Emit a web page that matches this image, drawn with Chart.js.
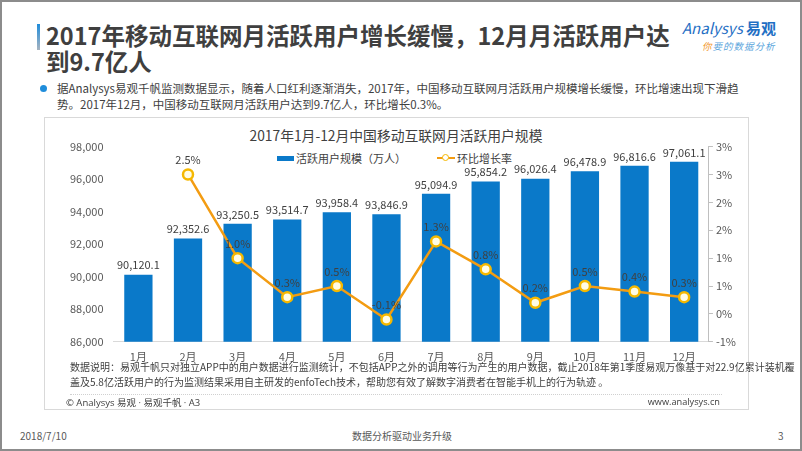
<!DOCTYPE html>
<html>
<head>
<meta charset="utf-8">
<script src="https://cdn.jsdelivr.net/npm/chart.js@4.4.1/dist/chart.umd.min.js"></script>
<style>
  body { margin: 0; background: #fff; font-family: "Noto Sans CJK SC", "Open Sans", sans-serif; color: #404040; }
  #slide { position: relative; width: 802px; height: 451px; box-sizing: border-box; border: 2px solid #8c8c8c; overflow: hidden; }
  .abs { position: absolute; white-space: nowrap; }
  #bar { left: 35px; top: 22px; width: 3px; height: 26px; background: linear-gradient(#1f8ddb, #a8b4c0); }
  #title { left: 44px; top: 20px; font-size: 23.5px; font-weight: bold; line-height: 26px; color: #3f3f3f; }
  #dot { left: 38px; top: 83px; width: 7px; height: 7px; border-radius: 50%; background: #1f8ddb; }
  #desc { left: 55px; top: 78px; font-size: 11.5px; line-height: 16px; }
  #box { left: 42px; top: 115px; width: 703px; height: 291px; border: 1px solid #d9d9d9; }
  #ctitle { left: 394px; top: 123px; transform: translateX(-50%); font-size: 13.8px; color: #404040; }
  #leg1 { left: 275px; top: 146px; font-size: 11px; }
  #leg2 { left: 435px; top: 146px; font-size: 11px; }
  .sw { display: inline-block; vertical-align: middle; }
  #note { left: 68px; top: 357px; font-size: 10px; line-height: 15px; color: #404040; }
  #sep { left: 68px; top: 392px; width: 652px; border-top: 1px dotted #d0d0d0; }
  #copy { left: 64px; top: 393px; font-size: 9.5px; color: #404040; }
  #site { right: 80px; top: 393px; font-size: 9.2px; color: #404040; font-family: "Open Sans", sans-serif; }
  .foot { top: 426px; font-size: 10px; color: #595959; }
  #logo1 { left: 680px; top: 15px; font-size: 15px; color: #1f6fc4; }
  #logo2 { left: 700px; top: 37px; font-size: 9.5px; font-style: italic; color: #5aa5dc; letter-spacing: 1px; }
  #chart { position: absolute; left: 43px; top: 128px; }
</style>
</head>
<body>
<div id="slide">
  <div class="abs" id="bar"></div>
  <div class="abs" id="title">2017年移动互联网月活跃用户增长缓慢，12月月活跃用户达<br>到9.7亿人</div>
  <div class="abs" id="logo1"><i>Analysys</i> <b>易观</b></div>
  <div class="abs" id="logo2"><span style="color:#f29a2e">你</span>要的数据分析</div>
  <div class="abs" id="dot"></div>
  <div class="abs" id="desc">据Analysys易观千帆监测数据显示，随着人口红利逐渐消失，2017年，中国移动互联网月活跃用户规模增长缓慢，环比增速出现下滑趋<br>势。2017年12月，中国移动互联网月活跃用户达到9.7亿人，环比增长0.3%。</div>
  <div class="abs" id="box"></div>
  <div class="abs" id="ctitle">2017年1月-12月中国移动互联网月活跃用户规模</div>
  <div class="abs" id="leg1"><span class="sw" style="width:17px;height:5px;background:#0a79c9;margin-right:2px"></span><span class="sw">活跃用户规模（万人）</span></div>
  <div class="abs" id="leg2"><span class="sw" style="width:18px;height:11px;position:relative;margin-right:2px"><span style="position:absolute;left:0;top:4px;width:18px;height:2px;background:#f39c12"></span><span style="position:absolute;left:5px;top:1px;width:5px;height:5px;border:1.5px solid #f5b800;border-radius:50%;background:#fff"></span></span><span class="sw">环比增长率</span></div>
  <canvas id="chart" width="702" height="245"></canvas>
  <div class="abs" id="note">数据说明：易观千帆只对独立APP中的用户数据进行监测统计，不包括APP之外的调用等行为产生的用户数据，截止2018年第1季度易观万像基于对22.9亿累计装机覆<br>盖及5.8亿活跃用户的行为监测结果采用自主研发的enfoTech技术，帮助您有效了解数字消费者在智能手机上的行为轨迹 。</div>
  <div class="abs" id="sep"></div>
  <div class="abs" id="copy"><span style="font-family:'Open Sans',sans-serif">© Analysys </span>易观<span style="font-family:'Open Sans',sans-serif"> · </span>易观千帆<span style="font-family:'Open Sans',sans-serif"> · A3</span></div>
  <div class="abs" id="site">www.analysys.cn</div>
  <div class="abs foot" style="left:18px">2018/7/10</div>
  <div class="abs foot" style="left:400px;transform:translateX(-50%)">数据分析驱动业务升级</div>
  <div class="abs foot" style="left:776px">3</div>
</div>
<script>
// 月份
var months = ["1月", "2月", "3月", "4月", "5月", "6月", "7月", "8月", "9月", "10月", "11月", "12月"];
// 活跃用户规模（万人）
var users = [90120.1, 92352.6, 93250.5, 93514.7, 93958.4, 93846.9, 95094.9, 95854.2, 96026.4, 96478.9, 96816.6, 97061.1];
// 环比增长率（%），1月无数据
var growth = [null, 2.5, 1.0, 0.3, 0.5, -0.1, 1.3, 0.8, 0.2, 0.5, 0.4, 0.3];

var FONT = "'Noto Sans CJK SC', 'Open Sans', sans-serif";

// 在柱子和点上方写数值
var valueLabels = {
  id: "valueLabels",
  afterDatasetsDraw: function(chart) {
    var ctx = chart.ctx;
    ctx.save();
    ctx.font = "11px " + FONT;
    ctx.fillStyle = "#404040";
    ctx.textAlign = "center";
    ctx.textBaseline = "bottom";
    chart.data.datasets.forEach(function(ds, i) {
      var meta = chart.getDatasetMeta(i);
      meta.data.forEach(function(el, j) {
        var v = ds.data[j];
        if (v === null) return;
        if (ds.type === "bar") {
          ctx.fillText(v.toLocaleString("en-US", {minimumFractionDigits: 1}), el.x, el.y - 4);
        } else {
          ctx.fillText(v.toFixed(1) + "%", el.x, el.y - 9);
        }
      });
    });
    ctx.restore();
  }
};

var ctx = document.getElementById("chart").getContext("2d");
var chart = new Chart(ctx, {
  data: {
    labels: months,
    datasets: [
      {
        type: "line",
        label: "环比增长率",
        data: growth,
        yAxisID: "y1",
        borderColor: "#f39c12",
        borderWidth: 2.5,
        pointRadius: 5,
        pointBorderWidth: 2.5,
        pointBackgroundColor: "#fffce6",
        pointBorderColor: "#f5b800",
        tension: 0,
        order: 1
      },
      {
        type: "bar",
        label: "活跃用户规模（万人）",
        data: users,
        yAxisID: "y",
        backgroundColor: "#0a79c9",
        categoryPercentage: 1,
        barPercentage: 0.57,
        order: 2
      }
    ]
  },
  options: {
    responsive: false,
    animation: false,
    layout: { padding: { top: 12, bottom: 4, left: 15, right: 8 } },
    plugins: { legend: { display: false }, title: { display: false }, tooltip: { enabled: false } },
    scales: {
      x: {
        grid: { display: false, drawTicks: false },
        border: { color: "#d9d9d9" },
        ticks: { color: "#595959", font: { size: 11, family: FONT }, padding: 8 }
      },
      y: {
        position: "left",
        min: 86000,
        max: 98000,
        grid: { display: false, drawTicks: false },
        border: { display: false },
        ticks: {
          stepSize: 2000,
          padding: 10,
          color: "#595959",
          font: { size: 11, family: FONT },
          callback: function(v) { return v.toLocaleString("en-US"); }
        }
      },
      y1: {
        position: "right",
        min: -0.5,
        max: 3.0,
        grid: { drawOnChartArea: false, color: "#bfbfbf", tickLength: 4 },
        border: { display: true, color: "#bfbfbf" },
        ticks: {
          stepSize: 0.5,
          padding: 3,
          color: "#595959",
          font: { size: 11, family: FONT },
          callback: function(v) { return (v < 0 ? -Math.round(-v) : Math.round(v)) + "%"; }
        }
      }
    }
  },
  plugins: [valueLabels]
});
</script>
</body>
</html>
